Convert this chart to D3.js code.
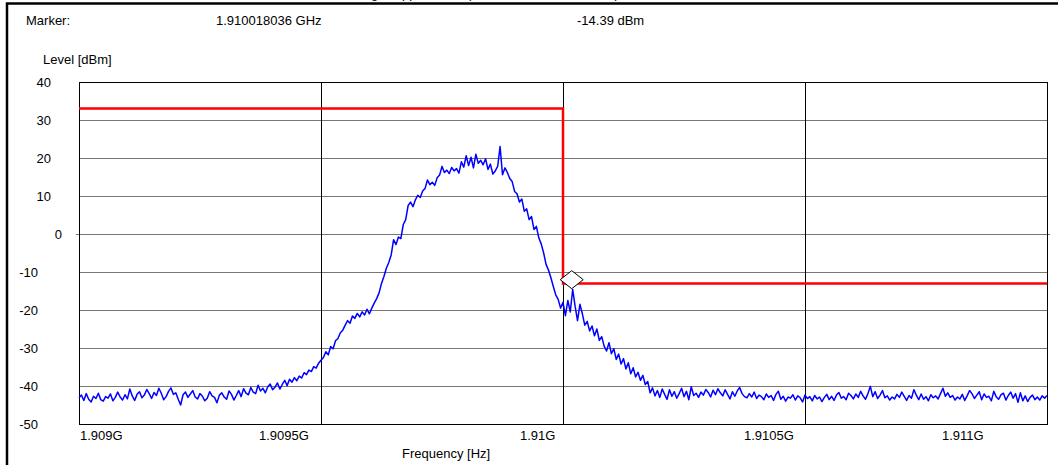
<!DOCTYPE html>
<html>
<head>
<meta charset="utf-8">
<script src="https://cdn.jsdelivr.net/npm/d3@7"></script>
<style>
  body { margin: 0; background: #fff; }
  svg { display: block; font-family: "Liberation Sans", Arial, sans-serif; }
</style>
</head>
<body>
<svg id="chart" width="1058" height="465"></svg>
<script>
// sweep: 1.909 GHz .. 1.911 GHz, 401 points
const sweepStart = 1.909e9;
const sweepStep = 5e3;

const levels = [
  -43.1,-42.4,-43.8,-42.0,-43.5,-44.2,-42.7,-43.3,-41.9,-43.6,
  -44.0,-42.8,-43.2,-42.1,-43.9,-43.0,-41.6,-42.9,-43.7,-42.3,
  -43.4,-40.8,-42.6,-43.8,-42.2,-41.5,-43.1,-42.4,-40.9,-42.0,
  -43.3,-41.7,-42.5,-40.6,-41.9,-43.6,-42.8,-41.4,-40.5,-42.2,
  -41.8,-43.5,-45.0,-42.3,-41.6,-43.0,-42.1,-41.2,-42.9,-43.4,
  -42.0,-42.7,-43.9,-43.2,-41.5,-42.6,-43.0,-44.4,-42.4,-41.8,
  -42.9,-43.5,-41.3,-42.2,-43.7,
  -42.5,-41.2,-42.8,-40.7,-41.9,-42.3,-40.4,-41.6,-42.0,-39.8,
  -41.3,-40.6,-41.8,-40.2,-39.5,-41.0,-40.3,-39.2,-40.8,-39.6,
  -38.5,-39.9,-38.2,-39.0,-37.8,
  -38.6,-37.4,-37.9,-36.5,-37.0,-35.8,-36.2,-34.9,-35.3,-34.0,
  -33.2,-32.5,-31.0,-31.8,-29.6,-30.2,-28.1,-27.5,-26.0,-25.3,
  -24.0,-22.8,-23.5,-21.6,-22.2,-20.9,-21.8,-20.5,-21.3,-19.8,
  -21.0,-19.5,-18.2,-17.0,-15.5,
  -13.0,-11.2,-9.0,-7.5,-5.5,-1.5,-2.8,-0.8,-1.2,2.5,
  3.8,7.5,8.4,7.2,9.0,10.2,9.6,11.3,12.0,14.2,
  13.0,13.6,12.8,14.8,15.5,17.8,16.2,16.8,15.9,17.5,
  16.6,17.2,16.0,19.0,17.6,20.6,18.0,20.2,17.4,21.0,
  18.6,19.4,18.2,19.8,17.0,18.4,15.8,16.6,17.8,23.0,
  15.6,17.4,16.2,14.6,13.8,11.2,10.6,8.4,9.2,6.0,
  6.6,3.8,4.6,1.2,2.0,-1.0,-2.6,-5.0,-8.0,-9.5,
  -11.5,-13.8,-16.0,-17.2,-19.5,-18.0,-21.5,-17.5,-20.5,-14.6,
  -19.0,-22.8,-18.5,-21.0,-24.0,-23.0,-25.5,-24.2,-26.8,-25.0,
  -28.0,-27.0,-29.5,-30.8,-28.6,-31.5,-30.2,-33.0,-31.6,-34.2,
  -32.8,-35.5,-33.9,-36.8,-35.2,-37.6,-36.4,-38.5,-37.2,-39.6,
  -38.8,
  -41.8,-40.5,-42.6,-41.2,-43.0,-40.8,-42.2,-43.5,-41.0,-42.7,
  -41.5,-43.2,-42.0,-40.6,-42.8,-41.4,-43.6,-40.2,-42.5,-41.9,
  -43.0,-41.6,-42.4,-40.9,-41.7,-42.9,-41.1,-42.3,-40.7,-41.8,
  -42.6,-41.0,-42.2,-43.4,-41.5,-42.7,-41.3,-40.4,-42.0,-42.8,
  -43.1,-42.0,-42.9,-41.6,-43.3,-42.4,-42.8,-43.6,-42.1,-43.0,
  -42.5,-43.8,-42.2,-41.4,-43.5,-42.7,-44.0,-42.9,-43.2,-42.3,
  -43.7,-42.6,-43.1,-44.2,-42.4,-43.3,-42.8,-43.9,-42.5,-43.4,
  -42.9,-44.1,-43.0,-42.2,-43.6,-42.7,-43.8,-42.4,-41.7,-43.2,
  -42.8,-43.6,-41.9,-42.5,-43.4,-42.1,-43.0,-41.4,-42.6,-43.5,
  -42.0,-40.1,-42.8,-41.5,-43.3,-42.4,-41.2,-43.1,-42.6,-43.7,
  -42.9,-43.4,-42.2,-43.0,-41.6,-42.7,-43.8,-42.5,-43.2,-41.0,
  -42.4,-43.6,-42.1,-43.5,-42.8,-43.9,-42.3,-43.1,-42.6,-43.4,
  -42.0,-40.6,-42.7,-41.8,-43.0,-42.5,-43.7,-42.9,-43.4,-42.2,
  -43.8,-42.6,-41.2,-42.0,-43.3,-42.4,-41.5,-43.6,-42.1,-43.0,
  -42.7,-43.9,-41.4,-42.8,-43.5,-42.3,-41.9,-43.7,-42.5,-41.6,
  -43.2,-42.0,-44.3,-41.8,-43.9,-42.6,-44.1,-43.0,-42.4,-43.6,
  -42.9,-43.7,-42.6,-43.2,-42.5
];

// limit line
const limitFreq = [1.909e9, 1.91e9, 1.91e9, 1.911e9];
const limitLevel = [33, 33, -13, -13];

// marker
const markerFreq = 1.910018036e9;
const markerLevel = -14.39;

// axes
const yTicks = [40, 30, 20, 10, 0, -10, -20, -30, -40, -50];
const xTicks = [1.909e9, 1.9095e9, 1.91e9, 1.9105e9, 1.911e9];
const xTickLabels = ["1.909G", "1.9095G", "1.91G", "1.9105G", "1.911G"];
const xLabelShift = [1, -62, -43, -61, -105]; // label placement (px), as in the original layout

const m = {left: 79, right: 1047, top: 82, bottom: 424};
const svg = d3.select("#chart");

const x = d3.scaleLinear().domain([1.909e9, 1.911e9]).range([m.left, m.right]);
const y = d3.scaleLinear().domain([-50, 40]).range([m.bottom, m.top]);

const trace = levels.map((v, i) => ({f: sweepStart + i * sweepStep, v: v}));

// outer frame (runs off the right and bottom of the picture)
svg.append("rect")
  .attr("x", 7).attr("y", 3.5).attr("width", 1100).attr("height", 520)
  .attr("fill", "none").attr("stroke", "#000").attr("stroke-width", 2.5);

// title, cut off by the top of the page as in the original
svg.append("text")
  .attr("x", 470).attr("y", -2).attr("text-anchor", "middle")
  .attr("font-size", 13)
  .text("Band Edge, Upper Block (GSM 1900, Channel 810)");

// header texts
const header = svg.append("g").attr("font-size", 13).attr("fill", "#000");
header.append("text").attr("x", 26).attr("y", 25).text("Marker:");
header.append("text").attr("x", 216).attr("y", 25).text("1.910018036 GHz");
header.append("text").attr("x", 577).attr("y", 25).text(markerLevel.toFixed(2) + " dBm");
header.append("text").attr("x", 43).attr("y", 64).text("Level [dBm]");
header.append("text").attr("x", 402).attr("y", 458).text("Frequency [Hz]");

// horizontal grid
svg.append("g").selectAll("line")
  .data(yTicks.filter(d => d > -50 && d < 40))
  .join("line")
  .attr("x1", d => d === 0 ? m.left - 3 : m.left)
  .attr("x2", d => d === 0 ? m.right + 3 : m.right)
  .attr("y1", d => y(d) + 0.5).attr("y2", d => y(d) + 0.5)
  .attr("stroke", "#777").attr("stroke-width", 1);

// vertical grid
svg.append("g").selectAll("line")
  .data(xTicks.slice(1, -1))
  .join("line")
  .attr("x1", d => Math.round(x(d)) + 0.5).attr("x2", d => Math.round(x(d)) + 0.5)
  .attr("y1", m.top).attr("y2", m.bottom)
  .attr("stroke", "#000").attr("stroke-width", 1);

// plot frame
svg.append("rect")
  .attr("x", m.left + 0.5).attr("y", m.top + 0.5)
  .attr("width", m.right - m.left).attr("height", m.bottom - m.top)
  .attr("fill", "none").attr("stroke", "#000").attr("stroke-width", 1);

// y tick labels
svg.append("g").attr("font-size", 13).selectAll("text")
  .data(yTicks)
  .join("text")
  .attr("x", d => d > 0 ? 51 : d === 0 ? 62 : 38)
  .attr("y", d => y(d))
  .attr("dy", "0.36em")
  .attr("text-anchor", "end")
  .text(d => d);

// x tick labels
svg.append("g").attr("font-size", 13).selectAll("text")
  .data(xTicks)
  .join("text")
  .attr("x", (d, i) => x(d) + xLabelShift[i])
  .attr("y", 440)
  .text((d, i) => xTickLabels[i]);

// measured trace
svg.append("path")
  .datum(trace)
  .attr("fill", "none")
  .attr("stroke", "#0000ff")
  .attr("stroke-width", 1.5)
  .attr("stroke-linejoin", "round")
  .attr("d", d3.line().x(d => x(d.f)).y(d => y(d.v)));

// limit line
svg.append("path")
  .datum(limitFreq.map((f, i) => ({f: f, v: limitLevel[i]})))
  .attr("fill", "none")
  .attr("stroke", "#ff0000")
  .attr("stroke-width", 2.5)
  .attr("d", d3.line().x(d => x(d.f)).y(d => y(d.v)));

// marker diamond, bottom tip on the marker point
const mx = x(markerFreq), my = y(markerLevel);
svg.append("path")
  .attr("d", `M${mx},${my - 18}L${mx + 11.5},${my - 9}L${mx},${my}L${mx - 11.5},${my - 9}Z`)
  .attr("fill", "#fff").attr("stroke", "#000").attr("stroke-width", 1);
</script>
</body>
</html>
